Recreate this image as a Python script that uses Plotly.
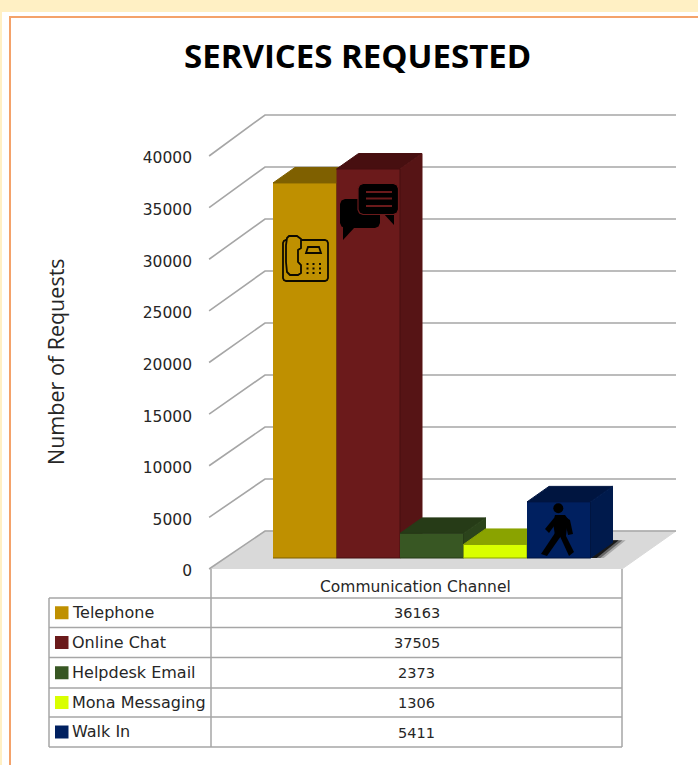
import plotly.graph_objects as go

channels = ["Telephone", "Online Chat", "Helpdesk Email", "Mona Messaging", "Walk In"]
requests = [36163, 37505, 2373, 1306, 5411]
tick_values = [0, 5000, 10000, 15000, 20000, 25000, 30000, 35000, 40000]
front_colors = ["#bf9000", "#6b1a1b", "#385723", "#d9ff00", "#002060"]
top_colors = ["#7f6000", "#470f10", "#263b17", "#8aa300", "#001540"]
side_colors = ["#8f6c00", "#561415", "#2b431b", "#a8c400", "#001a4c"]

W, H = 698, 765
BAR_PX = 63.5            # width of one bar
BAR_LEFT = 273           # left edge of the first bar
ZERO_PX = 569            # pixel row of value 0 on the front plane
PX_PER_VALUE = 413 / 40000
BAR_SCALE = 1.0045       # bars sit slightly deeper than the front plane
BAR_BASE = 11 / PX_PER_VALUE
SIDE_DX = 22 / BAR_PX
SIDE_DY = 15.5 / PX_PER_VALUE
WALL_DX = 54 / BAR_PX
WALL_SCALE = 416 / 413
WALL_BASE = 38 / PX_PER_VALUE


def to_x(px):
    return (px - BAR_LEFT) / BAR_PX


def fx(px):
    return px / W


def fy(py):
    return 1 - py / H


fig = go.Figure()


def polygon(xs, ys, fill, line=None, width=1):
    fig.add_trace(go.Scatter(
        x=xs, y=ys, mode="lines", fill="toself", fillcolor=fill,
        line=dict(color=line or fill, width=width),
        hoverinfo="skip", showlegend=False,
    ))


# floor
x_left, x_right = to_x(211), to_x(622)
polygon([x_left, x_left + WALL_DX, x_right + WALL_DX, x_right],
        [0, WALL_BASE, WALL_BASE, 0], "#d9d9d9")

# gridlines running along the side wall and the back wall
for v in tick_values:
    back = WALL_BASE + v * WALL_SCALE
    fig.add_trace(go.Scatter(
        x=[x_left - 0.03, x_left + WALL_DX, x_right + WALL_DX],
        y=[v, back, back], mode="lines",
        line=dict(color="#a6a6a6", width=1.6),
        hoverinfo="skip", showlegend=False,
    ))

# cast shadow on the floor behind the last bar, soft outer edge first
edge = len(requests)
for reach, color in ((1.6, "rgba(110,110,110,0.45)"), (1.45, "rgba(60,60,60,0.6)"), (1.28, "rgba(15,15,15,0.9)")):
    polygon([edge, edge + SIDE_DX, edge + SIDE_DX * reach, edge + SIDE_DX * (reach - 1)],
            [BAR_BASE, BAR_BASE + SIDE_DY * 1.15, BAR_BASE + SIDE_DY * 1.15, BAR_BASE],
            color, width=0)

# bars: top, side and front faces, back to front from left to right
for i, value in enumerate(requests):
    bottom = BAR_BASE
    top = BAR_BASE + value * BAR_SCALE
    x0, x1 = i, i + 1
    polygon([x0, x0 + SIDE_DX, x1 + SIDE_DX, x1],
            [top, top + SIDE_DY, top + SIDE_DY, top],
            top_colors[i], top_colors[i])
    polygon([x1, x1 + SIDE_DX, x1 + SIDE_DX, x1],
            [bottom, bottom + SIDE_DY, top + SIDE_DY, top],
            side_colors[i], side_colors[i])
    polygon([x0, x1, x1, x0], [bottom, bottom, top, top],
            front_colors[i], top_colors[i])

shapes = []


def add_rect(x0, y0, x1, y1, fill, line=None, width=0, layer="above"):
    shapes.append(dict(type="rect", xref="paper", yref="paper",
                       x0=fx(x0), x1=fx(x1), y0=fy(y0), y1=fy(y1),
                       fillcolor=fill, layer=layer,
                       line=dict(color=line or fill, width=width)))


def add_path(points, fill=None, line=None, width=0, closed=True):
    d = "M" + " L".join(f"{fx(x):.5f},{fy(y):.5f}" for x, y in points)
    if closed:
        d += " Z"
    shape = dict(type="path", xref="paper", yref="paper", path=d, layer="above",
                 line=dict(color=line or "rgba(0,0,0,0)", width=width))
    if fill:
        shape["fillcolor"] = fill
    shapes.append(shape)


def rounded(x0, y0, x1, y1, r):
    # polyline approximation of a rounded rectangle
    c = 0.3 * r
    return [(x0 + r, y0), (x1 - r, y0), (x1 - c, y0 + c), (x1, y0 + r),
            (x1, y1 - r), (x1 - c, y1 - c), (x1 - r, y1), (x0 + r, y1),
            (x0 + c, y1 - c), (x0, y1 - r), (x0, y0 + r), (x0 + c, y0 + c)]


def add_line(x0, y0, x1, y1, color="#a6a6a6", width=1.5):
    shapes.append(dict(type="line", xref="paper", yref="paper", layer="above",
                       x0=fx(x0), x1=fx(x1), y0=fy(y0), y1=fy(y1),
                       line=dict(color=color, width=width)))


# page frame
add_rect(0, 0, W, H, "#ffffff", layer="below")
add_rect(0, 0, W, 12, "#fff0c4", layer="below")
add_rect(0, 0, 2, H, "#fff0c4", layer="below")
add_rect(9, 16, W, 18, "#f4a26a", layer="below")
add_rect(9, 16, 11, H, "#f4a26a", layer="below")

# data table grid
rows = [598, 627.5, 657.5, 688, 717, 747]
for y in rows:
    add_line(49, y, 622, y)
add_line(49, rows[0], 49, rows[-1])
add_line(211, 569, 211, rows[-1])
add_line(622, 569, 622, rows[-1])

annotations = []


def add_text(x, y, text, size, anchor="center", family="DejaVu Sans", color="#262626", angle=0, bold=False):
    annotations.append(dict(
        xref="paper", yref="paper", x=fx(x), y=fy(y), text=f"<b>{text}</b>" if bold else text,
        showarrow=False, xanchor=anchor, yanchor="middle", textangle=angle,
        font=dict(family=family, size=size, color=color),
    ))


add_text(357, 56, "SERVICES REQUESTED", 33, family="Open Sans", color="#000000", bold=True)
add_text(55, 362, "Number of Requests", 21.5, family="Open Sans", angle=-90)
add_text(415.5, 587, "Communication Channel", 15.5)

for i, name in enumerate(channels):
    cy = (rows[i] + rows[i + 1]) / 2
    add_rect(55, cy - 6.5, 68.5, cy + 6.5, front_colors[i])
    add_text(70, cy - 0.5, name, 16, anchor="left")
    add_text(416.5, cy + 0.5, str(requests[i]), 14.5)

# telephone glyph
ink = "#0d0a00"
add_path(rounded(283, 240, 328, 281, 3), line=ink, width=1.8)
add_path([(289, 236), (297, 236), (301, 239), (301, 248), (298, 250), (298, 262),
          (301, 265), (301, 273), (298, 275), (290, 275), (287, 272), (286, 262),
          (286, 245), (287, 238)], fill=front_colors[0], line=ink, width=1.8)
add_path([(308, 247), (319, 247), (321, 253), (306, 253)], line=ink, width=1.8)
for px_ in (307.5, 313.5, 320):
    for py_ in (264, 268.5, 273):
        add_rect(px_ - 1, py_ - 1, px_ + 1, py_ + 1, ink)

# chat bubbles glyph
add_path(rounded(340, 199, 380, 228, 5), fill="#000000")
add_path([(343, 227), (343, 240), (355, 227)], fill="#000000")
add_path([(383, 213), (394, 225), (394, 213)], fill="#000000")
add_path(rounded(358, 183.5, 398.5, 214.5, 5), fill="#000000", line=front_colors[1], width=1.2)
for ly in (192, 198.5, 206):
    add_line(366, ly, 392, ly, color=front_colors[1], width=2)

# walking figure glyph
shapes.append(dict(type="circle", xref="paper", yref="paper", layer="above",
                   x0=fx(553.3), x1=fx(563.3), y0=fy(503.3), y1=fy(513.3),
                   fillcolor="#000000", line=dict(width=0, color="#000000")))
add_path([(555, 515), (565, 515), (568, 519), (566, 536), (555, 536), (553, 522)], fill="#000000")
add_path([(554, 518), (557, 522), (549, 533), (545, 529)], fill="#000000")
add_path([(564, 516), (570, 520), (573, 534), (568, 535)], fill="#000000")
add_path([(555, 533), (561, 536), (547, 556), (541, 554)], fill="#000000")
add_path([(558, 532), (565, 534), (574, 552), (569, 556)], fill="#000000")

fig.update_layout(
    width=W, height=H, autosize=False,
    margin=dict(l=0, r=0, t=0, b=0),
    paper_bgcolor="#ffffff", plot_bgcolor="rgba(0,0,0,0)",
    showlegend=False, shapes=shapes, annotations=annotations,
    xaxis=dict(range=[to_x(0), to_x(W)], domain=[0, 1], visible=False, fixedrange=True),
    yaxis=dict(
        range=[-(H - ZERO_PX) / PX_PER_VALUE, ZERO_PX / PX_PER_VALUE],
        domain=[0, 1], anchor="free", position=192 / W,
        tickmode="array", tickvals=tick_values, ticktext=[str(v) for v in tick_values],
        showgrid=False, zeroline=False, showline=False, ticks="", fixedrange=True,
        ticklabelshift=2,
        tickfont=dict(family="DejaVu Sans", size=15.5, color="#262626"),
    ),
)

fig.write_html("out.html", config=dict(displayModeBar=False))
